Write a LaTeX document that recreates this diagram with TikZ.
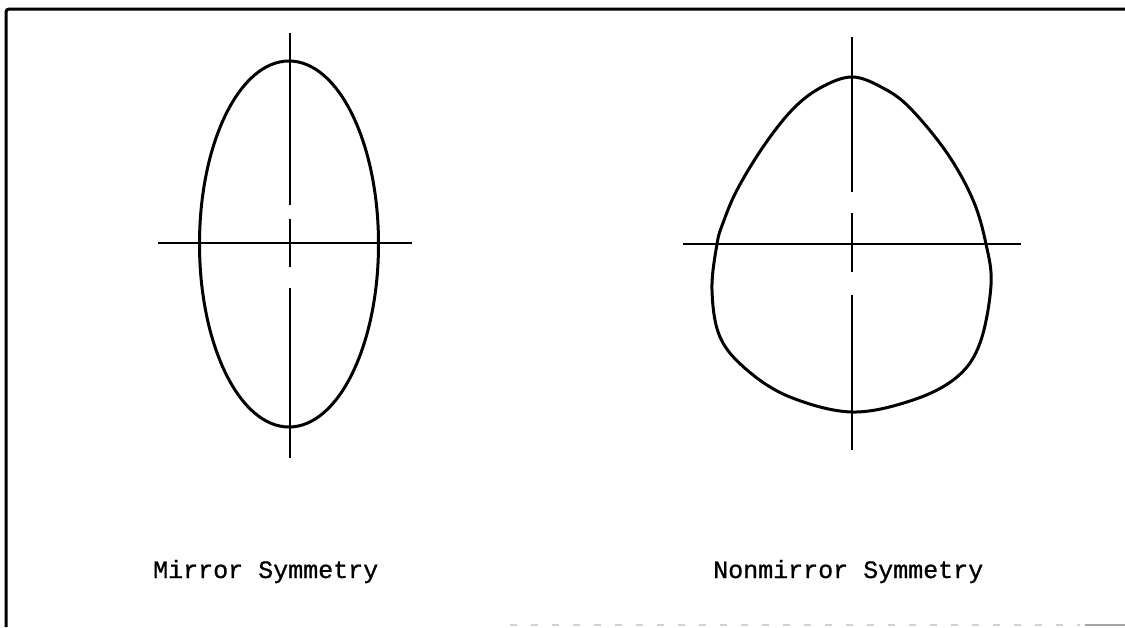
\documentclass[tikz,border=0pt]{standalone}
\usepackage{fontspec}
\newfontfamily\tw[FakeBold=0.8]{Liberation Mono}
\begin{document}
\begin{tikzpicture}[x=1pt,y=-1pt,
  axisline/.style={line width=2.2pt},
  outline/.style={line width=3pt, line join=round},
  framel/.style={line width=3pt},
  lbl/.style={font=\tw\fontsize{25}{30}\selectfont, anchor=base west, inner sep=0pt}]
\useasboundingbox (0,0) rectangle (1125,627);
% frame
\draw[framel, rounded corners=3pt] (1125,9) -- (6,9) -- (6,627);
\draw[gray!35, line width=1.5pt, dash pattern=on 7pt off 14pt] (510,625) -- (1080,625);
\draw[gray!70, line width=2pt] (1085,625) -- (1125,625);
% left figure
\draw[axisline] (158,243) -- (412,243);
\draw[axisline] (290,33) -- (290,205);
\draw[axisline] (290,219) -- (290,267);
\draw[axisline] (290,288) -- (290,458);
\draw[outline] (289,244) ellipse [x radius=89.5pt, y radius=183pt];
% right figure
\draw[axisline] (683,244) -- (1021,244);
\draw[axisline] (852,37) -- (852,192);
\draw[axisline] (852,213) -- (852,272);
\draw[axisline] (852,295) -- (852,450);
\draw[outline] plot[smooth cycle, tension=0.6] coordinates {
  (852,77) (883,88) (910,108) (947,153) (973,200) (986,244) (991,285)
  (980,343) (957,377) (913,400) (852,412) (790,397) (747,370) (720,337)
  (712,290) (717,244) (723,223) (737,190) (763,147) (792,110) (820,88)};
% labels
\node[lbl] (mirror) at (153,578) {Mirror Symmetry};
\node[lbl] (nonmirror) at (713,578) {Nonmirror Symmetry};
\end{tikzpicture}
\end{document}
